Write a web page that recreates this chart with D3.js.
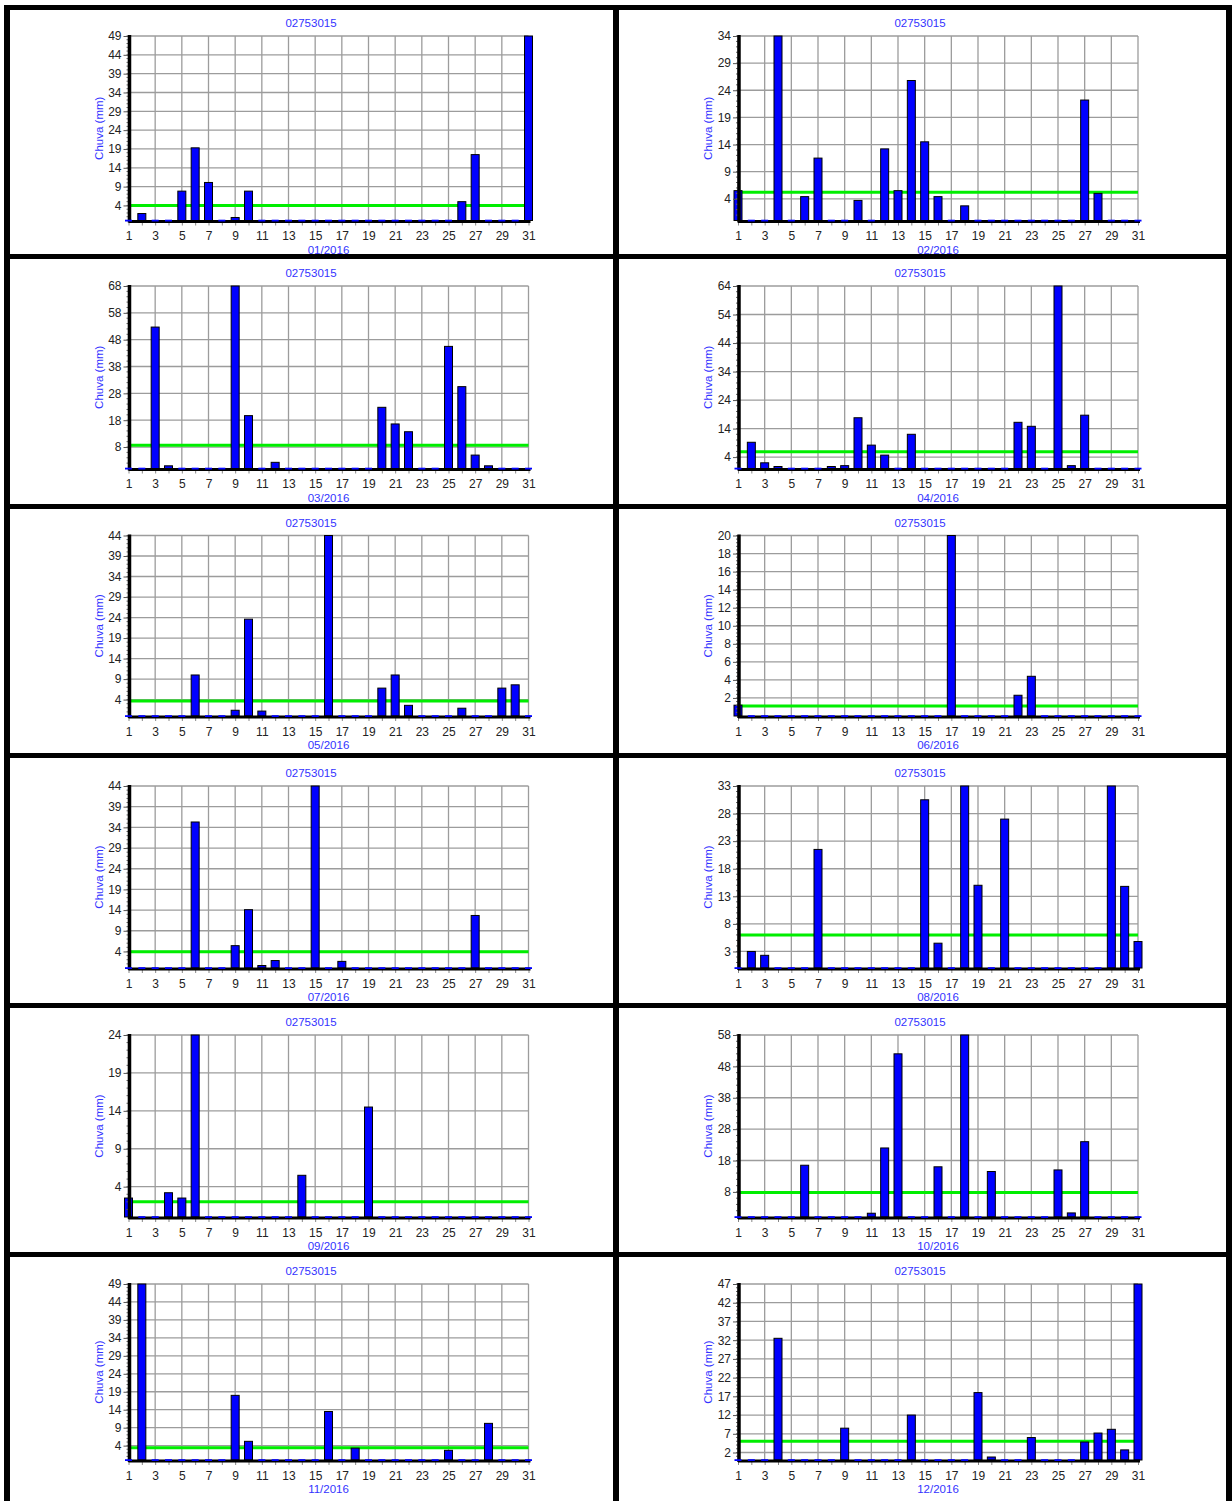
<!DOCTYPE html>
<html>
<head>
<meta charset="utf-8">
<script src="https://cdn.jsdelivr.net/npm/d3@7"></script>
<style>
  body { margin: 0; background: #fff; }
  svg { display: block; }
  text { font-family: "Liberation Sans", Arial, sans-serif; }
</style>
</head>
<body>
<svg id="quadro" width="1232" height="1501"></svg>
<script>
// Estação pluviométrica e eixo dos dias
const estacao = "02753015";
const dias = d3.range(1, 32);
const rotulosDias = d3.range(1, 32, 2);
const meses = ["01/2016", "02/2016", "03/2016", "04/2016", "05/2016", "06/2016",
               "07/2016", "08/2016", "09/2016", "10/2016", "11/2016", "12/2016"];

// Chuva diária (mm), dia 1 a 31
const chuvaJan = [0, 1.85, 0, 0, 7.8, 19.3, 10.1, 0, 0.8, 7.8, 0, 0, 0, 0, 0, 0, 0, 0, 0, 0, 0, 0, 0, 0, 0, 5.0, 17.5, 0, 0, 0, 49];
const chuvaFev = [5.5, 0, 0, 34, 0, 4.4, 11.5, 0, 0, 3.7, 0, 13.2, 5.5, 25.8, 14.5, 4.4, 0, 2.7, 0, 0, 0, 0, 0, 0, 0, 0, 22.2, 5.0, 0, 0, 0];
const chuvaMar = [0, 0, 52.7, 1.0, 0, 0, 0, 0, 68, 19.7, 0, 2.3, 0, 0, 0, 0, 0, 0, 0, 22.8, 16.6, 13.7, 0, 0, 45.5, 30.5, 5.0, 1.0, 0, 0, 0];
const chuvaAbr = [0, 9.2, 2.0, 0.7, 0, 0, 0, 0.7, 1.0, 17.8, 8.2, 4.7, 0, 12.0, 0, 0, 0, 0, 0, 0, 0, 16.2, 14.8, 0, 64, 1.0, 18.7, 0, 0, 0, 0];
const chuvaMai = [0, 0, 0, 0, 0, 10, 0, 0, 1.4, 23.6, 1.2, 0, 0, 0, 0, 44, 0, 0, 0, 6.8, 10, 2.6, 0, 0, 0, 1.9, 0, 0, 6.8, 7.6, 0];
const chuvaJun = [1.2, 0, 0, 0, 0, 0, 0, 0, 0, 0, 0, 0, 0, 0, 0, 0, 20, 0, 0, 0, 0, 2.3, 4.4, 0, 0, 0, 0, 0, 0, 0, 0];
const chuvaJul = [0, 0, 0, 0, 0, 35.3, 0, 0, 5.4, 14.1, 0.6, 1.8, 0, 0, 44, 0, 1.6, 0, 0, 0, 0, 0, 0, 0, 0, 0, 12.7, 0, 0, 0, 0];
const chuvaAgo = [0, 3, 2.3, 0, 0, 0, 21.5, 0, 0, 0, 0, 0, 0, 0, 30.5, 4.5, 0, 33, 15, 0, 27, 0, 0, 0, 0, 0, 0, 0, 33, 14.8, 4.8];
const chuvaSet = [2.5, 0, 0, 3.2, 2.5, 24, 0, 0, 0, 0, 0, 0, 0, 5.5, 0, 0, 0, 0, 14.5, 0, 0, 0, 0, 0, 0, 0, 0, 0, 0, 0, 0];
const chuvaOut = [0, 0, 0, 0, 0, 16.5, 0, 0, 0, 0, 1.2, 22, 52, 0, 0, 16, 0, 58, 0, 14.5, 0, 0, 0, 0, 15, 1.3, 24, 0, 0, 0, 0];
const chuvaNov = [0, 49, 0, 0, 0, 0, 0, 0, 18, 5.2, 0, 0, 0, 0, 0, 13.5, 0, 3.3, 0, 0, 0, 0, 0, 0, 2.7, 0, 0, 10.2, 0, 0, 0];
const chuvaDez = [0, 0, 0, 32.5, 0, 0, 0, 0, 8.5, 0, 0, 0, 0, 12, 0, 0, 0, 0, 18, 0.8, 0, 0, 6, 0, 0, 0, 4.8, 7.2, 8.2, 2.7, 47];

// Linha de referência (verde) de cada mês, em mm
const mediaMensal = [4.0, 5.2, 8.7, 5.9, 3.65, 1.12, 3.9, 6.0, 2.0, 7.8, 3.4, 5.0];
// Topo e passo do eixo vertical de cada mês
const topoEixo = [49, 34, 68, 64, 44, 20, 44, 33, 24, 58, 49, 47];
const passoEixo = [5, 5, 10, 10, 5, 2, 5, 5, 5, 10, 5, 5];

const series = [chuvaJan, chuvaFev, chuvaMar, chuvaAbr, chuvaMai, chuvaJun,
                chuvaJul, chuvaAgo, chuvaSet, chuvaOut, chuvaNov, chuvaDez];

// Geometria do quadro
const W = 1232, H = 1501;
const colX0 = [128.5, 738];             // posição do dia 1 em cada coluna
const larguraPlot = 400;
const painelCentro = [311, 920];
const linhaTopo = [36, 286, 535.5, 786, 1035, 1284];
const linhaBase = [220.5, 468.5, 716, 968, 1217, 1460];
const faixasH = [5, 254, 504, 753, 1003, 1252];  // bordas horizontais
const faixasV = [[4, 6], [613, 6], [1226, 6]];   // bordas verticais [x, largura]

const azul = "#3333ff";
const fonte = "'Liberation Sans', Arial, sans-serif";
const svg = d3.select("#quadro");
svg.append("rect").attr("width", W).attr("height", H).attr("fill", "#fff");

series.forEach((valores, i) => {
  const lin = Math.floor(i / 2), col = i % 2;
  const topo = topoEixo[i], passo = passoEixo[i];
  const x = d3.scaleLinear().domain([1, 31]).range([colX0[col], colX0[col] + larguraPlot]);
  const y = d3.scaleLinear().domain([0, topo]).range([linhaBase[lin], linhaTopo[lin]]);
  const g = svg.append("g");
  const ticksY = d3.range(topo, 0, -passo);
  const ticksMenores = d3.range(topo, 0, -passo / 5);
  const barra = 8;

  // grade
  g.append("g").selectAll("line").data(ticksY).join("line")
    .attr("x1", x(1)).attr("x2", x(31))
    .attr("y1", d => y(d)).attr("y2", d => y(d))
    .attr("stroke", "#9c9c9c").attr("stroke-width", 1.3);
  g.append("g").selectAll("line").data(rotulosDias).join("line")
    .attr("x1", d => x(d)).attr("x2", d => x(d))
    .attr("y1", y(topo)).attr("y2", y(0))
    .attr("stroke", "#9c9c9c").attr("stroke-width", 1.3);

  // linha de referência
  g.append("line")
    .attr("x1", x(1)).attr("x2", x(31))
    .attr("y1", y(mediaMensal[i])).attr("y2", y(mediaMensal[i]))
    .attr("stroke", "#00ee00").attr("stroke-width", 3);

  // barras de chuva
  const dados = dias.map((d, k) => ({ dia: d, v: valores[k] }));
  g.append("g").selectAll("rect").data(dados.filter(d => d.v > 0)).join("rect")
    .attr("x", d => x(d.dia) - barra / 2)
    .attr("y", d => y(d.v))
    .attr("width", barra)
    .attr("height", d => y(0) - y(d.v))
    .attr("fill", "#0000ff")
    .attr("stroke", "#000").attr("stroke-width", 1);

  // eixo vertical
  const eixoY = g.append("g").attr("transform", `translate(${x(1)},0)`)
    .call(d3.axisLeft(y).tickValues(ticksY).tickSize(5).tickPadding(2).tickFormat(d3.format("d")));
  eixoY.select(".domain").remove();
  eixoY.selectAll(".tick line").attr("stroke", "#555");
  eixoY.selectAll(".tick text").attr("fill", "#222").style("font-size", "12px")
    .style("font-family", fonte);
  g.append("g").selectAll("line").data(ticksMenores).join("line")
    .attr("x1", x(1) - 2).attr("x2", x(1))
    .attr("y1", d => y(d)).attr("y2", d => y(d))
    .attr("stroke", "#666").attr("stroke-width", 1);
  g.append("line")
    .attr("x1", x(1) + 1).attr("x2", x(1) + 1)
    .attr("y1", y(topo) - 1).attr("y2", y(0) + 2)
    .attr("stroke", "#000").attr("stroke-width", 3.5);

  // eixo horizontal
  const eixoX = g.append("g").attr("transform", `translate(0,${y(0) + 2})`)
    .call(d3.axisBottom(x).tickValues(dias).tickSize(3).tickPadding(6)
      .tickFormat(d => (d % 2 === 1 ? d : "")));
  eixoX.select(".domain").remove();
  eixoX.selectAll(".tick line").attr("stroke", "#888");
  eixoX.selectAll(".tick text").attr("fill", "#222").style("font-size", "12px")
    .style("font-family", fonte);
  g.append("line")
    .attr("x1", x(1)).attr("x2", x(31) + 2)
    .attr("y1", y(0) + 1).attr("y2", y(0) + 1)
    .attr("stroke", "#000").attr("stroke-width", 3);

  // dias sem chuva: barra rasa sobre o eixo
  g.append("g").selectAll("rect").data(dados.filter(d => d.v === 0)).join("rect")
    .attr("x", d => x(d.dia) - barra / 2 + 0.5)
    .attr("y", y(0) - 0.8)
    .attr("width", barra - 1)
    .attr("height", 1.8)
    .attr("fill", "#0000ff");

  // textos
  g.append("text").attr("x", painelCentro[col]).attr("y", linhaTopo[lin] - 9)
    .attr("text-anchor", "middle").attr("fill", azul).style("font-size", "11.5px")
    .text(estacao);
  g.append("text").attr("x", x(16)).attr("y", y(0) + 33)
    .attr("text-anchor", "middle").attr("fill", azul).style("font-size", "11.5px")
    .text(meses[i]);
  g.append("text")
    .attr("transform", `translate(${x(1) - 26},${(y(0) + y(topo)) / 2}) rotate(-90)`)
    .attr("text-anchor", "middle").attr("fill", azul).style("font-size", "11.5px")
    .text("Chuva (mm)");
});

// bordas do quadro
const bordas = svg.append("g").attr("fill", "#000");
faixasH.forEach(yb => bordas.append("rect").attr("x", 4).attr("y", yb).attr("width", W - 4).attr("height", 5));
faixasV.forEach(([xb, w]) => bordas.append("rect").attr("x", xb).attr("y", 5).attr("width", w).attr("height", H - 5));
</script>
</body>
</html>
